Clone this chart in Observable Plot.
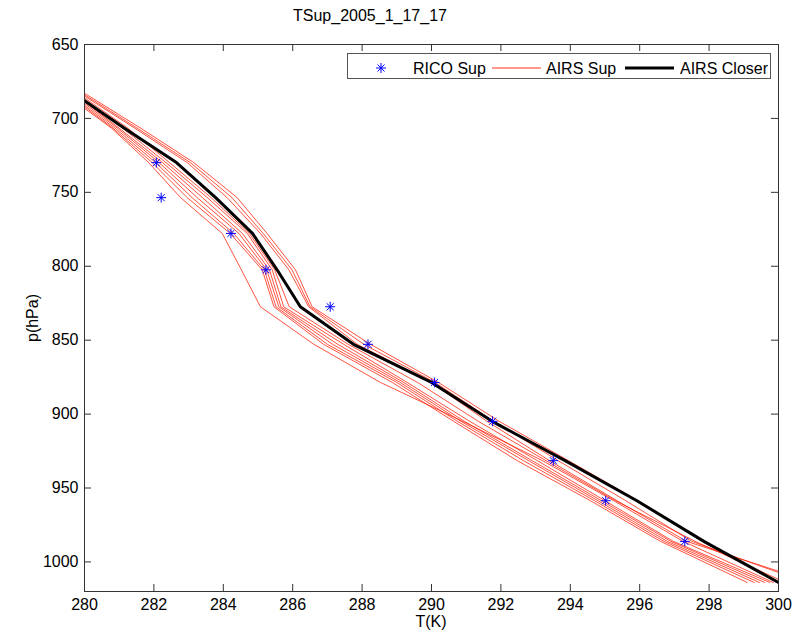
<!DOCTYPE html>
<html><head><meta charset="utf-8">
<script src="https://cdn.jsdelivr.net/npm/d3@7"></script>
<script src="https://cdn.jsdelivr.net/npm/@observablehq/plot@0.6"></script>
<style>
body{margin:0;background:#fff;font-family:"Liberation Sans",Arial,Helvetica,sans-serif;}
#wrap{position:relative;width:804px;height:634px;overflow:hidden;}
.txt{position:absolute;font-size:16px;color:#000;white-space:nowrap;line-height:1;}
#legend{position:absolute;left:347px;top:53px;width:424px;height:26px;border:1px solid #555;background:#fff;box-sizing:border-box;}
#legend svg{position:absolute;left:0;top:0;}
</style></head><body><div id="wrap"></div>
<script>
// Pressure levels (hPa)
const levels = [661.3, 683.7, 706.6, 729.9, 753.6, 777.8, 802.4, 827.4, 852.8, 878.6, 904.9, 931.5, 958.6, 986.1, 1013.9];
// AIRS Closer temperature (K)
const airsCloser = [278.3, 279.73, 281.15, 282.65, 283.78, 284.84, 285.55, 286.22, 287.75, 290.0, 291.75, 293.85, 295.92, 297.85, 300.0];
// RICO Sup soundings
const ricoLevels = [729.9, 753.6, 777.8, 802.4, 827.4, 852.8, 878.6, 904.9, 931.5, 958.6, 986.1];
const ricoT = [282.07, 282.21, 284.22, 285.23, 287.08, 288.17, 290.09, 291.76, 293.51, 295.02, 297.30];
// AIRS Sup members (K) on the levels above
const supMembers = [
  [278.6, 280.05, 281.62, 283.15, 284.40, 285.26, 286.08, 286.56, 288.24, 290.20, 291.95, 293.95, 295.95, 297.80, 299.95],
  [278.5, 279.98, 281.52, 283.05, 284.25, 285.15, 285.98, 286.50, 288.05, 290.10, 291.80, 293.65, 295.60, 297.50, 300.80],
  [278.45, 279.92, 281.45, 282.96, 284.11, 285.07, 285.89, 286.46, 287.86, 290.00, 291.60, 293.40, 295.35, 297.35, 301.00],
  [278.3, 279.80, 281.10, 282.35, 283.54, 284.69, 285.41, 285.74, 287.47, 289.30, 291.10, 293.05, 295.00, 296.97, 299.75],
  [278.25, 279.72, 281.00, 282.25, 283.40, 284.55, 285.33, 285.66, 287.30, 289.20, 290.95, 292.90, 294.90, 296.90, 299.60],
  [278.2, 279.65, 280.95, 282.15, 283.25, 284.45, 285.25, 285.60, 287.15, 289.10, 290.85, 292.80, 294.80, 296.80, 299.45],
  [278.1, 279.58, 280.88, 282.05, 283.10, 284.30, 285.18, 285.52, 287.00, 289.00, 290.75, 292.65, 294.70, 296.70, 299.30],
  [278.05, 279.52, 280.82, 281.95, 282.96, 284.20, 285.12, 285.46, 286.89, 288.87, 290.64, 292.47, 294.58, 296.60, 299.10],
  [278.0, 279.45, 280.78, 281.85, 282.77, 283.97, 284.52, 285.07, 286.61, 288.53, 290.90, 293.20, 295.25, 297.25, 299.85],
  [278.35, 279.85, 281.25, 282.45, 283.65, 284.75, 285.48, 285.90, 287.60, 289.60, 291.35, 293.30, 295.30, 297.60, 300.20]
];
const xTicks = [280, 282, 284, 286, 288, 290, 292, 294, 296, 298, 300];
const yTicks = [650, 700, 750, 800, 850, 900, 950, 1000];
const titleText = "TSup_2005_1_17_17";
const xLabel = "T(K)";
const yLabel = "p(hPa)";
const legendLabels = ["RICO Sup", "AIRS Sup", "AIRS Closer"];

const supRows = supMembers.flatMap((vals, m) => vals.map((T, i) => ({m, T, p: levels[i]})));
const closerRows = airsCloser.map((T, i) => ({T, p: levels[i]}));
const ricoRows = ricoT.map((T, i) => ({T, p: ricoLevels[i]}));

const W = 804, H = 634, mL = 84, mR = 26, mT = 44, mB = 43;
const innerW = W - mL - mR, innerH = H - mT - mB;
const frameColor = "#333";

const chart = Plot.plot({
  width: W, height: H,
  marginLeft: mL, marginRight: mR, marginTop: mT, marginBottom: mB,
  style: {fontSize: "16px", fontFamily: '"Liberation Sans", Arial, sans-serif', background: "#fff", color: "#000"},
  x: {domain: [280, 300]},
  y: {domain: [650, 1020], reverse: true},
  marks: [
    Plot.line(supRows, {x: "T", y: "p", z: "m", stroke: "#ff1a00", strokeWidth: 0.75, clip: true}),
    Plot.line(closerRows, {x: "T", y: "p", stroke: "#000", strokeWidth: 3, clip: true}),
    Plot.dot(ricoRows, {x: "T", y: "p", symbol: "plus", r: 3.3, stroke: "#0000ff", strokeWidth: 1, clip: true}),
    Plot.dot(ricoRows, {x: "T", y: "p", symbol: "times", r: 3.3, stroke: "#0000ff", strokeWidth: 1, clip: true}),
    Plot.tickX(xTicks, {x: d => d, insetTop: innerH - 7, stroke: frameColor}),
    Plot.tickX(xTicks, {x: d => d, insetBottom: innerH - 7, stroke: frameColor}),
    Plot.tickY(yTicks, {y: d => d, insetRight: innerW - 7, stroke: frameColor}),
    Plot.tickY(yTicks, {y: d => d, insetLeft: innerW - 7, stroke: frameColor}),
    Plot.axisX(xTicks, {tickSize: 0, tickPadding: 7, label: null, tickFormat: d => String(d)}),
    Plot.axisY(yTicks, {tickSize: 0, tickPadding: 6, label: null, tickFormat: d => String(d)}),
    Plot.frame({stroke: frameColor})
  ]
});

const wrap = document.getElementById("wrap");
chart.style.position = "absolute"; chart.style.left = "0"; chart.style.top = "0";
wrap.appendChild(chart);

function addText(t, css) {
  const d = document.createElement("div");
  d.className = "txt"; d.textContent = t;
  Object.assign(d.style, css);
  wrap.appendChild(d);
  return d;
}
addText(titleText, {left: "293px", top: "8px"});
addText(xLabel, {left: "431px", top: "614px", transform: "translateX(-50%)"});
addText(yLabel, {left: "33px", top: "318px", transform: "translate(-50%,-50%) rotate(-90deg)"});

// Legend
const lg = document.createElement("div");
lg.id = "legend";
const ns = "http://www.w3.org/2000/svg";
const s = document.createElementNS(ns, "svg");
s.setAttribute("width", 424); s.setAttribute("height", 26);
const ox = 347, oy = 53, cy = 67 - oy;
function el(name, attrs) { const e = document.createElementNS(ns, name); for (const k in attrs) e.setAttribute(k, attrs[k]); s.appendChild(e); return e; }
const sx = 380 - ox;
el("path", {d: `M${sx-5},${cy}H${sx+5}M${sx},${cy-5}V${cy+5}M${sx-3.5},${cy-3.5}L${sx+3.5},${cy+3.5}M${sx-3.5},${cy+3.5}L${sx+3.5},${cy-3.5}`, stroke: "#0000ff", "stroke-width": 1, fill: "none"});
el("line", {x1: 491 - ox, x2: 540 - ox, y1: cy, y2: cy, stroke: "#ff1a00", "stroke-width": 0.9});
el("line", {x1: 624 - ox, x2: 673 - ox, y1: cy, y2: cy, stroke: "#000", "stroke-width": 3});
const lx = [412, 545, 679];
legendLabels.forEach((t, i) => {
  const e = el("text", {x: lx[i] - ox, y: cy + 6, "font-size": 16, "font-family": '"Liberation Sans", Arial, sans-serif', fill: "#000"});
  e.textContent = t;
});
lg.appendChild(s);
wrap.appendChild(lg);
</script>
</body></html>
